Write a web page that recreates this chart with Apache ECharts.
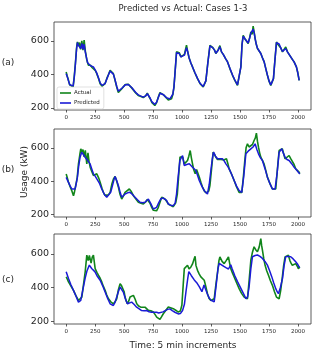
<!DOCTYPE html>
<html>
<head>
<meta charset="utf-8">
<script src="https://cdn.jsdelivr.net/npm/echarts@6/dist/echarts.min.js"></script>
<style>
  html, body { margin: 0; padding: 0; background: #fff; }
  #chart { width: 315px; height: 352px; }
</style>
</head>
<body>
<div id="chart"></div>
<script>
// tick labels
var xTicks = [0, 250, 500, 750, 1000, 1250, 1500, 1750, 2000];
var yTicks = [200, 400, 600];
var panelNames = ['(a)', '(b)', '(c)'];

// case 1 : [time step, kW]
var actualA = [[0,415],[8,392],[20,365],[30,338],[45,330],[60,326],[70,390],[80,470],[90,560],[97,594],[105,570],[115,590],[125,550],[135,600],[145,545],[155,605],[165,540],[177,490],[185,470],[192,455],[210,455],[225,440],[235,448],[250,425],[264,405],[280,375],[293,345],[310,330],[321,322],[335,345],[350,375],[365,400],[379,425],[395,415],[407,405],[420,370],[436,325],[450,292],[465,300],[480,315],[493,325],[510,340],[525,345],[536,342],[550,335],[565,320],[580,312],[600,290],[622,275],[640,270],[665,262],[685,272],[700,288],[709,285],[725,255],[740,232],[752,222],[765,215],[780,232],[795,265],[809,292],[825,285],[840,278],[852,275],[865,260],[881,248],[895,252],[909,255],[920,280],[930,325],[940,420],[952,535],[965,525],[975,530],[990,505],[1004,495],[1020,520],[1038,575],[1047,540],[1060,500],[1075,470],[1090,445],[1110,410],[1133,375],[1155,345],[1182,325],[1195,335],[1205,362],[1222,470],[1240,574],[1263,562],[1280,545],[1291,525],[1310,545],[1326,572],[1340,535],[1355,520],[1375,495],[1392,475],[1415,430],[1435,395],[1455,365],[1478,335],[1492,340],[1507,445],[1517,580],[1527,634],[1540,615],[1550,624],[1570,585],[1583,620],[1593,654],[1605,640],[1613,688],[1622,650],[1630,614],[1640,580],[1650,555],[1665,540],[1679,525],[1693,500],[1708,475],[1722,435],[1736,395],[1750,360],[1765,335],[1776,340],[1788,375],[1800,480],[1814,594],[1825,580],[1837,584],[1850,560],[1866,535],[1880,545],[1894,564],[1909,535],[1923,520],[1937,505],[1951,490],[1966,475],[1986,445],[1998,410],[2010,365]];
var predictedA = [[0,405],[8,390],[20,362],[30,340],[45,332],[60,330],[70,385],[80,465],[90,555],[97,590],[105,575],[115,580],[125,555],[135,585],[145,550],[155,580],[165,535],[177,495],[185,470],[192,460],[210,452],[225,445],[235,445],[250,428],[264,408],[280,378],[293,350],[310,335],[321,328],[335,345],[350,372],[365,398],[379,420],[395,415],[407,402],[420,372],[436,330],[450,300],[465,305],[480,318],[493,328],[510,338],[525,342],[536,340],[550,334],[565,322],[580,312],[600,292],[622,278],[640,272],[665,265],[685,272],[700,285],[709,282],[725,258],[740,236],[752,228],[765,222],[780,234],[795,262],[809,288],[825,285],[840,279],[852,275],[865,262],[881,252],[895,254],[909,258],[920,282],[930,328],[940,420],[952,530],[965,525],[975,525],[990,505],[1004,498],[1020,515],[1038,560],[1047,540],[1060,500],[1075,470],[1090,445],[1110,412],[1133,377],[1155,347],[1182,328],[1195,337],[1205,362],[1222,468],[1240,570],[1263,560],[1280,545],[1291,527],[1310,543],[1326,565],[1340,535],[1355,520],[1375,495],[1392,475],[1415,432],[1435,397],[1455,367],[1478,338],[1492,342],[1507,445],[1517,578],[1527,628],[1540,615],[1550,620],[1570,588],[1583,618],[1593,645],[1605,640],[1613,670],[1622,648],[1630,614],[1640,580],[1650,557],[1665,540],[1679,525],[1693,500],[1708,475],[1722,435],[1736,397],[1750,362],[1765,338],[1776,342],[1788,375],[1800,478],[1814,590],[1825,580],[1837,582],[1850,560],[1866,537],[1880,545],[1894,555],[1909,535],[1923,520],[1937,505],[1951,490],[1966,475],[1986,445],[1998,410],[2010,365]];

// case 2
var actualB = [[0,443],[8,425],[20,393],[35,365],[50,340],[63,313],[70,330],[80,340],[95,420],[106,504],[118,560],[126,594],[135,575],[145,590],[155,545],[165,585],[178,504],[188,570],[197,520],[207,484],[220,460],[235,434],[250,440],[264,444],[280,420],[293,393],[310,355],[321,333],[335,315],[350,303],[365,318],[379,333],[395,385],[408,413],[422,428],[436,400],[451,363],[465,320],[479,293],[493,310],[508,333],[525,345],[545,353],[560,340],[580,313],[600,295],[623,273],[645,268],[666,263],[685,275],[700,290],[709,293],[725,265],[738,243],[752,225],[766,213],[780,222],[795,243],[810,275],[824,303],[838,298],[852,293],[866,280],[881,263],[900,255],[924,247],[945,270],[959,323],[970,430],[982,544],[995,548],[1005,544],[1019,504],[1033,515],[1047,524],[1058,550],[1070,584],[1080,540],[1090,504],[1100,470],[1113,444],[1125,470],[1133,464],[1148,425],[1162,393],[1176,365],[1191,343],[1205,330],[1219,323],[1230,340],[1240,373],[1255,480],[1268,574],[1280,560],[1291,544],[1305,530],[1320,524],[1335,530],[1349,534],[1365,528],[1383,534],[1395,505],[1406,474],[1428,440],[1449,404],[1470,365],[1492,333],[1505,330],[1515,333],[1528,420],[1541,524],[1552,600],[1564,624],[1578,605],[1593,614],[1607,620],[1621,644],[1632,660],[1641,688],[1650,640],[1659,604],[1669,570],[1679,544],[1693,525],[1707,504],[1722,465],[1736,424],[1758,385],[1779,353],[1793,348],[1808,353],[1822,470],[1837,584],[1850,580],[1865,594],[1876,565],[1888,534],[1905,545],[1923,554],[1937,535],[1951,524],[1966,500],[1980,474],[1995,462],[2009,454],[2015,445]];
var predictedB = [[0,423],[20,393],[35,370],[49,353],[65,350],[77,353],[88,390],[97,424],[108,490],[120,544],[134,574],[148,560],[163,544],[185,525],[206,504],[220,475],[235,444],[250,430],[264,424],[285,390],[307,353],[330,320],[350,303],[365,310],[384,333],[400,375],[415,415],[422,428],[435,405],[450,374],[465,335],[479,303],[493,310],[508,323],[530,330],[551,333],[572,320],[594,303],[615,288],[637,273],[660,270],[680,273],[695,285],[709,293],[730,265],[752,233],[766,232],[780,243],[797,268],[815,293],[835,300],[852,303],[866,285],[881,263],[900,256],[924,253],[940,268],[952,323],[965,420],[981,524],[1004,554],[1018,494],[1040,500],[1062,504],[1075,495],[1090,484],[1105,475],[1119,464],[1133,435],[1148,404],[1170,370],[1191,343],[1219,323],[1234,380],[1248,464],[1260,530],[1271,574],[1288,550],[1306,534],[1328,534],[1349,534],[1364,520],[1378,504],[1392,490],[1406,474],[1428,440],[1449,404],[1470,370],[1492,343],[1515,333],[1532,430],[1550,564],[1570,580],[1593,594],[1612,605],[1630,624],[1645,590],[1659,564],[1676,540],[1693,524],[1715,475],[1736,424],[1758,385],[1779,353],[1802,353],[1820,450],[1837,574],[1860,594],[1875,565],[1888,544],[1905,530],[1923,524],[1945,505],[1966,484],[1985,470],[2003,454],[2015,443]];

// case 3
var actualC = [[0,463],[10,450],[20,433],[40,410],[63,383],[85,350],[106,323],[120,330],[135,343],[150,420],[164,493],[178,592],[190,560],[200,590],[207,582],[215,545],[225,580],[235,592],[242,600],[250,512],[265,490],[278,473],[293,455],[307,433],[322,405],[336,383],[350,355],[365,333],[385,315],[408,303],[422,315],[436,333],[450,385],[465,423],[478,410],[488,403],[500,375],[508,343],[518,320],[528,303],[540,320],[551,343],[565,345],[580,353],[595,330],[609,303],[625,290],[643,283],[660,285],[680,283],[695,275],[709,264],[730,262],[752,254],[766,240],[781,224],[795,215],[809,210],[822,225],[838,244],[860,265],[881,284],[900,280],[924,274],[945,265],[967,254],[975,244],[985,260],[998,294],[1010,420],[1019,512],[1033,520],[1047,532],[1060,510],[1076,522],[1090,540],[1105,572],[1112,585],[1120,530],[1133,502],[1148,480],[1162,463],[1176,455],[1191,443],[1205,405],[1219,363],[1233,335],[1248,323],[1262,325],[1277,333],[1292,420],[1306,492],[1318,560],[1326,582],[1345,555],[1363,542],[1380,560],[1400,582],[1410,545],[1420,512],[1435,485],[1449,463],[1470,428],[1492,393],[1513,365],[1535,343],[1550,335],[1564,333],[1578,440],[1593,562],[1607,610],[1621,642],[1635,625],[1650,612],[1665,640],[1679,691],[1686,650],[1693,622],[1705,570],[1716,532],[1730,500],[1745,473],[1762,440],[1779,413],[1797,375],[1814,343],[1825,335],[1837,333],[1850,380],[1865,463],[1876,530],[1888,582],[1900,575],[1917,592],[1930,560],[1940,545],[1951,532],[1965,525],[1980,542],[1995,525],[2003,512],[2015,522]];
var predictedC = [[0,493],[20,453],[40,418],[63,383],[85,348],[106,313],[118,318],[126,323],[145,390],[163,453],[180,500],[200,533],[220,513],[235,505],[249,493],[270,465],[293,443],[315,410],[336,373],[358,335],[379,303],[393,295],[407,293],[420,310],[436,343],[450,375],[465,403],[478,395],[493,373],[510,335],[528,303],[545,305],[565,313],[585,300],[608,283],[630,273],[651,263],[672,262],[694,263],[715,256],[737,253],[760,253],[780,253],[798,248],[815,243],[835,255],[852,263],[875,270],[895,273],[915,262],[938,253],[955,247],[967,243],[985,245],[1004,263],[1020,300],[1033,373],[1048,450],[1058,494],[1080,470],[1105,445],[1130,425],[1148,405],[1171,375],[1189,415],[1205,385],[1219,360],[1234,337],[1248,325],[1262,318],[1277,315],[1295,420],[1310,513],[1320,544],[1340,535],[1360,525],[1378,518],[1400,510],[1420,535],[1430,515],[1455,470],[1478,435],[1507,395],[1536,355],[1550,333],[1565,345],[1578,403],[1593,510],[1607,583],[1630,590],[1650,593],[1672,585],[1693,573],[1715,555],[1736,533],[1755,500],[1774,463],[1790,428],[1808,393],[1820,375],[1831,363],[1848,400],[1866,453],[1880,530],[1894,583],[1915,585],[1937,583],[1958,570],[1980,553],[1995,540],[2009,523],[2015,518]];

var actualSets = [actualA, actualB, actualC];
var predictedSets = [predictedA, predictedB, predictedC];

var font = 'DejaVu Sans';
var ink = '#262626';
var panels = [
    { top: 22, height: 88, min: 188, max: 713 },
    { top: 129, height: 88, min: 185, max: 713 },
    { top: 234, height: 90, min: 183, max: 718 }
];

function plain(v) { return String(v); }

var grids = [], xAxes = [], yAxes = [], series = [];
panels.forEach(function (p, i) {
    grids.push({
        left: 54, width: 257, top: p.top, height: p.height,
        show: true, borderColor: '#333', borderWidth: 0.8,
        backgroundColor: '#fff', containLabel: false
    });
    xAxes.push({
        type: 'value', gridIndex: i, position: 'bottom', min: -105, max: 2112,
        splitLine: { show: false },
        axisLine: { show: false, onZero: false },
        axisTick: { show: true, length: 2.5, customValues: xTicks, lineStyle: { color: '#333', width: 0.8 } },
        axisLabel: { customValues: xTicks, formatter: plain, fontSize: 5.5, color: ink, fontFamily: font, margin: 5 }
    });
    yAxes.push({
        type: 'value', gridIndex: i, position: 'left', min: p.min, max: p.max,
        splitLine: { show: false },
        axisLine: { show: false, onZero: false },
        axisTick: { show: true, length: 3, customValues: yTicks, lineStyle: { color: '#333', width: 0.8 } },
        axisLabel: { customValues: yTicks, formatter: plain, fontSize: 9.5, color: ink, fontFamily: font, margin: 5 }
    });
    series.push({
        name: 'Actual', type: 'line', xAxisIndex: i, yAxisIndex: i,
        data: actualSets[i], showSymbol: false, symbol: 'none',
        lineStyle: { color: '#11851a', width: 1.6 }, itemStyle: { color: '#11851a' },
        animation: false, z: 2
    });
    series.push({
        name: 'Predicted', type: 'line', xAxisIndex: i, yAxisIndex: i,
        data: predictedSets[i], showSymbol: false, symbol: 'none',
        lineStyle: { color: '#1a1ad6', width: 1.5 }, itemStyle: { color: '#1a1ad6' },
        animation: false, z: 3
    });
});

var texts = [
    { type: 'text', x: 183, y: 9, style: { text: 'Predicted vs Actual: Cases 1-3', fontSize: 8.5, fill: ink, fontFamily: font, textAlign: 'center', textVerticalAlign: 'middle' } },
    { type: 'text', x: 183, y: 346, style: { text: 'Time: 5 min increments', fontSize: 9, fill: ink, fontFamily: font, textAlign: 'center', textVerticalAlign: 'middle' } },
    { type: 'text', x: 25, y: 172, rotation: Math.PI / 2, style: { text: 'Usage (kW)', fontSize: 9, fill: ink, fontFamily: font, textAlign: 'center', textVerticalAlign: 'middle' } }
];
[63, 170, 280].forEach(function (y, i) {
    texts.push({ type: 'text', x: 8, y: y, style: { text: panelNames[i], fontSize: 9, fill: ink, fontFamily: font, textAlign: 'center', textVerticalAlign: 'middle' } });
});

var myChart = echarts.init(document.getElementById('chart'), null, { renderer: 'canvas' });
myChart.setOption({
    animation: false,
    backgroundColor: '#fff',
    grid: grids,
    xAxis: xAxes,
    yAxis: yAxes,
    legend: {
        data: ['Actual', 'Predicted'],
        orient: 'vertical', left: 57, top: 87,
        icon: 'rect', itemWidth: 11, itemHeight: 1.6, itemGap: 4,
        padding: [3, 4, 3, 3],
        backgroundColor: 'rgba(255,255,255,0.85)',
        borderColor: '#ccc', borderWidth: 0.6, borderRadius: 2,
        textStyle: { fontSize: 5.5, color: ink, fontFamily: font, padding: [0, 0, 0, -2] },
        selectedMode: false
    },
    graphic: texts,
    series: series
});
</script>
</body>
</html>
